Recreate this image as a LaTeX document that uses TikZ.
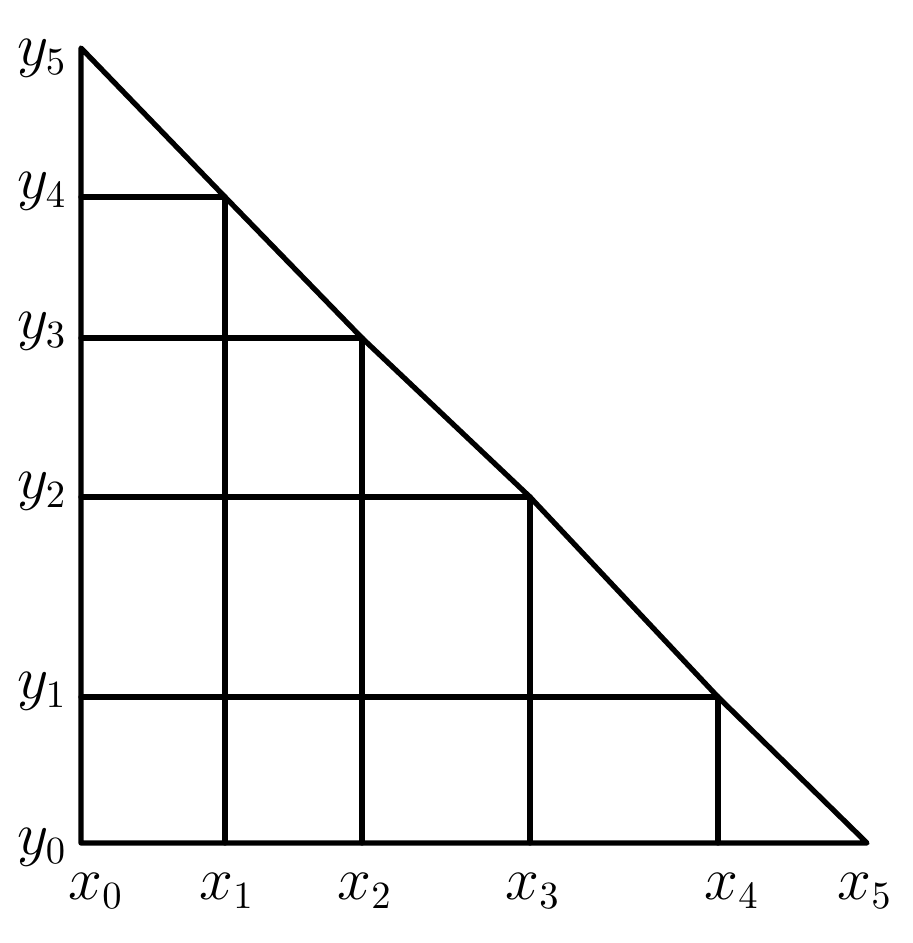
\documentclass[tikz,border=0pt]{standalone}
\begin{document}
\begin{tikzpicture}[line join=round, line cap=round, font=\fontsize{16}{19}\selectfont]
	\useasboundingbox (0,0) rectangle (9.13,9.43);
	\def\lw{1.5pt} % do day net ve
	% luoi: x_i va y_i
	\foreach \i/\xx in {0/0.81,1/2.25,2/3.62,3/5.30,4/7.18,5/8.67} \coordinate (X\i) at (\xx,1.00);
	\foreach \i/\yy in {0/1.00,1/2.46,2/4.46,3/6.05,4/7.46,5/8.95} \coordinate (Y\i) at (0.81,\yy);
	% dinh tren canh huyen
	\coordinate (P1) at (2.25,7.46); \coordinate (P2) at (3.62,6.05);
	\coordinate (P3) at (5.30,4.46); \coordinate (P4) at (7.18,2.46);
	\draw[line width=\lw] (X0) -- (X5) -- (P4) -- (P3) -- (P2) -- (P1) -- (Y5) -- cycle;
	\foreach \i/\j in {1/4,2/3,3/2,4/1} {
		\draw[line width=\lw] (X\i) -- (P\i);
		\draw[line width=\lw] (Y\j) -- (P\i);
	}
	% nhan
	\foreach \i/\yy in {0/0.96,1/2.52,2/4.52,3/6.12,4/7.52,5/8.85} \node (ly\i) at (0.42,\yy) {$y_{\i}$};
	\foreach \i/\xx in {0/0.96,1/2.27,2/3.65,3/5.33,4/7.32,5/8.65} \node (lx\i) at (\xx,0.52) {$x_{\i}$};
\end{tikzpicture}
\end{document}
